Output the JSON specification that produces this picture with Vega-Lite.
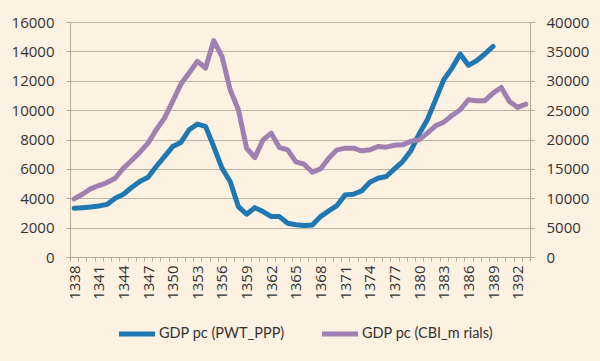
{
  "$schema": "https://vega.github.io/schema/vega-lite/v6.json",
  "width": 460,
  "height": 235,
  "autosize": {"type": "none"},
  "padding": {"left": 70, "top": 22, "right": 70, "bottom": 104},
  "background": "#FDF1E2",
  "config": {
    "view": {"stroke": null},
    "font": "Lato",
    "axis": {"labelFont": "Open Sans", "labelFontSize": 15, "labelColor": "#333333", "domainColor": "#B3A898", "tickColor": "#B3A898", "gridColor": "#BDB2A3", "title": null},
    "legend": {"labelFont": "Lato", "labelFontSize": 14.5, "labelColor": "#333333"}
  },
  "data": {"values": [
    {"year": 1338, "pwt": 3320, "cbi": 9890},
    {"year": 1339, "pwt": 3360, "cbi": 10680},
    {"year": 1340, "pwt": 3400, "cbi": 11590},
    {"year": 1341, "pwt": 3470, "cbi": 12160},
    {"year": 1342, "pwt": 3580, "cbi": 12670},
    {"year": 1343, "pwt": 4000, "cbi": 13410},
    {"year": 1344, "pwt": 4270, "cbi": 15120},
    {"year": 1345, "pwt": 4730, "cbi": 16420},
    {"year": 1346, "pwt": 5140, "cbi": 17840},
    {"year": 1347, "pwt": 5430, "cbi": 19380},
    {"year": 1348, "pwt": 6160, "cbi": 21650},
    {"year": 1349, "pwt": 6840, "cbi": 23640},
    {"year": 1350, "pwt": 7520, "cbi": 26480},
    {"year": 1351, "pwt": 7800, "cbi": 29450},
    {"year": 1352, "pwt": 8660, "cbi": 31310},
    {"year": 1353, "pwt": 9050, "cbi": 33300},
    {"year": 1354, "pwt": 8890, "cbi": 32160},
    {"year": 1355, "pwt": 7520, "cbi": 36820},
    {"year": 1356, "pwt": 6050, "cbi": 34140},
    {"year": 1357, "pwt": 5140, "cbi": 28470},
    {"year": 1358, "pwt": 3430, "cbi": 25060},
    {"year": 1359, "pwt": 2910, "cbi": 18530},
    {"year": 1360, "pwt": 3360, "cbi": 16930},
    {"year": 1361, "pwt": 3090, "cbi": 19940},
    {"year": 1362, "pwt": 2750, "cbi": 21080},
    {"year": 1363, "pwt": 2750, "cbi": 18640},
    {"year": 1364, "pwt": 2300, "cbi": 18240},
    {"year": 1365, "pwt": 2200, "cbi": 16200},
    {"year": 1366, "pwt": 2140, "cbi": 15800},
    {"year": 1367, "pwt": 2180, "cbi": 14440},
    {"year": 1368, "pwt": 2750, "cbi": 15000},
    {"year": 1369, "pwt": 3140, "cbi": 16820},
    {"year": 1370, "pwt": 3500, "cbi": 18240},
    {"year": 1371, "pwt": 4230, "cbi": 18530},
    {"year": 1372, "pwt": 4270, "cbi": 18530},
    {"year": 1373, "pwt": 4500, "cbi": 18070},
    {"year": 1374, "pwt": 5090, "cbi": 18240},
    {"year": 1375, "pwt": 5360, "cbi": 18810},
    {"year": 1376, "pwt": 5480, "cbi": 18700},
    {"year": 1377, "pwt": 6000, "cbi": 19030},
    {"year": 1378, "pwt": 6500, "cbi": 19090},
    {"year": 1379, "pwt": 7240, "cbi": 19700},
    {"year": 1380, "pwt": 8370, "cbi": 19940},
    {"year": 1381, "pwt": 9340, "cbi": 21080},
    {"year": 1382, "pwt": 10700, "cbi": 22330},
    {"year": 1383, "pwt": 12070, "cbi": 22950},
    {"year": 1384, "pwt": 12860, "cbi": 24090},
    {"year": 1385, "pwt": 13820, "cbi": 25060},
    {"year": 1386, "pwt": 13050, "cbi": 26760},
    {"year": 1387, "pwt": 13360, "cbi": 26600},
    {"year": 1388, "pwt": 13820, "cbi": 26600},
    {"year": 1389, "pwt": 14340, "cbi": 27900},
    {"year": 1390, "cbi": 28860},
    {"year": 1391, "cbi": 26480},
    {"year": 1392, "cbi": 25460},
    {"year": 1393, "cbi": 26030}
  ]},
  "layer": [
    {
      "transform": [{"filter": "isValid(datum.pwt)"}],
      "mark": {"type": "line", "strokeWidth": 5, "strokeJoin": "round", "strokeCap": "round"},
      "encoding": {
        "x": {"field": "year", "type": "quantitative",
          "scale": {"domain": [1337.5, 1393.5], "nice": false, "zero": false},
          "axis": {"orient": "bottom", "values": [1338,1341,1344,1347,1350,1353,1356,1359,1362,1365,1368,1371,1374,1377,1380,1383,1386,1389,1392], "format": "d", "labelAngle": -90, "labelPadding": 8, "ticks": false, "domain": false, "grid": false, "labelFlush": false, "labelOverlap": false}},
        "y": {"field": "pwt", "type": "quantitative",
          "scale": {"domain": [0, 16000], "nice": false},
          "axis": {"orient": "left", "values": [0,2000,4000,6000,8000,10000,12000,14000,16000], "format": "d", "grid": true, "tickSize": 4, "labelPadding": 12}},
        "color": {"datum": "GDP pc (PWT_PPP)", "type": "nominal",
          "scale": {"domain": ["GDP pc (PWT_PPP)", "GDP pc (CBI_m rials)"], "range": ["#1F78B1", "#A07FB1"]},
          "legend": {"orient": "none", "direction": "horizontal", "legendX": 46, "legendY": 291, "title": null, "symbolType": "stroke", "symbolStrokeWidth": 5, "symbolSize": 1300, "labelOffset": 1, "columnPadding": 26}}
      }
    },
    {
      "mark": {"type": "line", "strokeWidth": 5, "strokeJoin": "round", "strokeCap": "round"},
      "encoding": {
        "x": {"field": "year", "type": "quantitative",
          "axis": {"orient": "bottom", "values": [1337.5,1338.5,1339.5,1340.5,1341.5,1342.5,1343.5,1344.5,1345.5,1346.5,1347.5,1348.5,1349.5,1350.5,1351.5,1352.5,1353.5,1354.5,1355.5,1356.5,1357.5,1358.5,1359.5,1360.5,1361.5,1362.5,1363.5,1364.5,1365.5,1366.5,1367.5,1368.5,1369.5,1370.5,1371.5,1372.5,1373.5,1374.5,1375.5,1376.5,1377.5,1378.5,1379.5,1380.5,1381.5,1382.5,1383.5,1384.5,1385.5,1386.5,1387.5,1388.5,1389.5,1390.5,1391.5,1392.5,1393.5], "labels": false, "ticks": true, "tickSize": 4, "domain": true, "grid": false}},
        "y": {"field": "cbi", "type": "quantitative",
          "scale": {"domain": [0, 40000], "nice": false},
          "axis": {"orient": "right", "values": [0,5000,10000,15000,20000,25000,30000,35000,40000], "format": "d", "grid": false, "tickSize": 4, "labelPadding": 12}},
        "color": {"datum": "GDP pc (CBI_m rials)", "type": "nominal"}
      }
    }
  ],
  "resolve": {"scale": {"y": "independent"}, "axis": {"x": "independent"}}
}
